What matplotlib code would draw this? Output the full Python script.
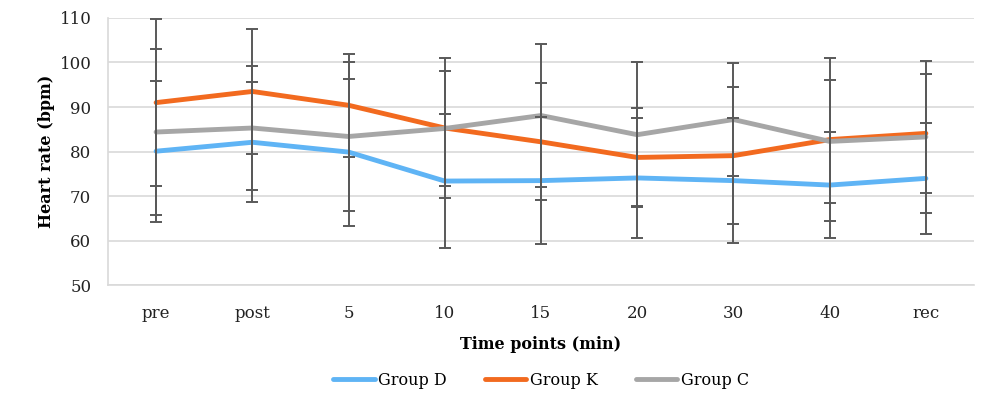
import matplotlib.pyplot as plt
import numpy as np

time_points = ['pre', 'post', '5', '10', '15', '20', '30', '40', 'rec']

group_d = [80.1, 82.1, 79.9, 73.4, 73.5, 74.1, 73.5, 72.5, 74.0]
group_d_sd = [15.8, 13.5, 16.5, 15.1, 14.3, 13.4, 14.1, 11.8, 12.5]

group_k = [91.0, 93.5, 90.4, 85.3, 82.2, 78.7, 79.1, 82.7, 84.1]
group_k_sd = [18.8, 14.0, 11.6, 15.7, 13.1, 11.0, 15.3, 18.2, 13.3]

group_c = [84.4, 85.3, 83.4, 85.2, 88.1, 83.8, 87.2, 82.3, 83.3]
group_c_sd = [18.7, 14.0, 16.8, 13.0, 16.0, 16.2, 12.7, 13.8, 17.1]

plt.rcParams['font.family'] = ['DejaVu Serif']

fig = plt.figure(figsize=(10, 3.98), dpi=100)
ax = fig.add_axes([0.108, 0.283, 0.866, 0.672])

x = np.arange(len(time_points))
series = [
    ('Group D', group_d, group_d_sd, '#5fb4f5'),
    ('Group K', group_k, group_k_sd, '#f26a1f'),
    ('Group C', group_c, group_c_sd, '#a6a6a6'),
]
for name, vals, sd, col in series:
    ax.plot(x, vals, color=col, lw=3.5, label=name, zorder=2,
            solid_capstyle='round')
for name, vals, sd, col in series:
    ax.errorbar(x, vals, yerr=sd, fmt='none', ecolor='#595959',
                elinewidth=1.4, capsize=4, capthick=1.4, zorder=3)

ax.set_xlim(-0.5, len(time_points) - 0.5)
ax.set_ylim(50, 110)
ax.set_yticks(range(50, 111, 10))
ax.set_xticks(x)
ax.set_xticklabels(time_points)
ax.grid(axis='y', color='#d9d9d9', lw=1.2)
ax.set_axisbelow(True)
for s in ['top', 'right']:
    ax.spines[s].set_visible(False)
ax.spines['left'].set_color('#d9d9d9')
ax.spines['bottom'].set_color('#d9d9d9')
ax.spines['left'].set_linewidth(1.2)
ax.spines['bottom'].set_linewidth(1.2)
ax.tick_params(length=0, labelsize=12, colors='#222222')
ax.tick_params(axis='x', pad=14)
ax.tick_params(axis='y', pad=12)

ax.set_ylabel('Heart rate (bpm)', fontsize=11.5, fontweight='bold', labelpad=3)
ax.set_xlabel('Time points (min)', fontsize=11.5, fontweight='bold', labelpad=10)

ax.legend(loc='upper center', bbox_to_anchor=(0.5, -0.27), ncol=3,
          frameon=False, fontsize=11.5, handlelength=2.6, handletextpad=0.2,
          columnspacing=2.4)

fig.savefig('out.png', dpi=100)
